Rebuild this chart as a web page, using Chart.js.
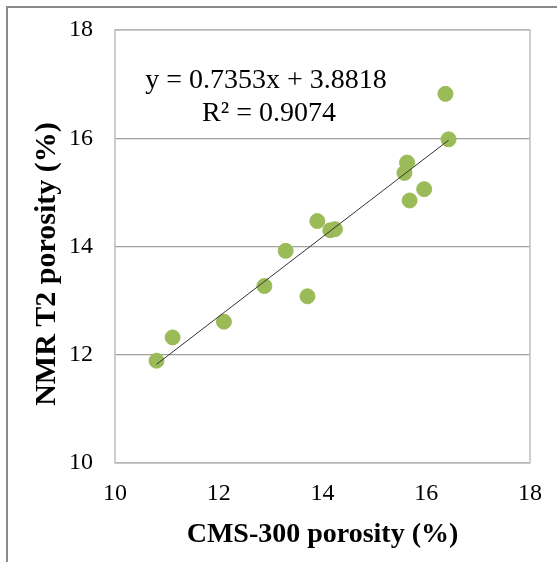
<!DOCTYPE html>
<html>
<head>
<meta charset="utf-8">
<script src="https://cdn.jsdelivr.net/npm/chart.js@4.4.0/dist/chart.umd.min.js"></script>
<style>
    html, body { margin: 0; padding: 0; background: #fff; }
    #wrap { width: 557px; height: 562px; }
</style>
</head>
<body>
<div id="wrap"><canvas id="porosityChart" width="557" height="562"></canvas></div>
<script>
// CMS-300 porosity vs NMR T2 porosity (%)
const cmsPorosity = [10.80, 11.11, 12.10, 12.88, 13.29, 13.71, 13.90, 14.15, 14.24, 15.58, 15.63, 15.68, 15.96, 16.37, 16.43];
const nmrPorosity = [11.89, 12.32, 12.61, 13.27, 13.92, 13.08, 14.47, 14.30, 14.32, 15.36, 15.55, 14.85, 15.06, 16.82, 15.98];
const axisTicks = [10, 12, 14, 16, 18];

// linear fit shown on the chart
const slope = 0.7353;
const intercept = 3.8818;
const fitLabel = ['y = 0.7353x + 3.8818', 'R² = 0.9074'];
const yTitle = 'NMR T2 porosity (%)';

const points = cmsPorosity.map((x, i) => ({ x: x, y: nmrPorosity[i] }));
const xMin = Math.min(...cmsPorosity);
const xMax = Math.max(...cmsPorosity);
const trend = [xMin, xMax].map(x => ({ x: x, y: slope * x + intercept }));

const serif = "'Liberation Serif', 'Times New Roman', serif";

// frame lines, plot border, equation and y title
const decor = {
    id: 'decor',
    beforeDraw(chart) {
        const ctx = chart.ctx;
        ctx.save();
        ctx.strokeStyle = '#8a8a8a';
        ctx.lineWidth = 2;
        ctx.beginPath();
        ctx.moveTo(7, 562);
        ctx.lineTo(7, 7);
        ctx.lineTo(557, 7);
        ctx.stroke();
        ctx.restore();
    },
    afterDatasetsDraw(chart) {
        const ctx = chart.ctx;
        const a = chart.chartArea;
        ctx.save();
        ctx.strokeStyle = '#bfbfbf';
        ctx.lineWidth = 1.5;
        ctx.strokeRect(a.left, a.top, a.right - a.left, a.bottom - a.top);
        ctx.fillStyle = '#000';
        ctx.font = '28px ' + serif;
        ctx.textAlign = 'center';
        ctx.textBaseline = 'middle';
        ctx.fillText(fitLabel[0], 266, 81);
        ctx.fillText(fitLabel[1], 269, 114);

        ctx.translate(47, 264);
        ctx.rotate(-Math.PI / 2);
        ctx.font = 'bold 30px ' + serif;
        ctx.fillText(yTitle, 0, 0);
        ctx.restore();
    }
};

new Chart(document.getElementById('porosityChart'), {
    type: 'scatter',
    data: {
        datasets: [{
            label: 'Samples',
            data: points,
            backgroundColor: '#9bbb59',
            borderColor: '#9bbb59',
            pointRadius: 7.5,
            order: 2
        }, {
            label: 'Trend',
            type: 'line',
            data: trend,
            borderColor: '#333',
            borderWidth: 1,
            pointRadius: 0,
            fill: false,
            order: 1
        }]
    },
    options: {
        responsive: false,
        animation: false,
        layout: { padding: { left: 8, top: 30, right: 27, bottom: 10 } },
        plugins: {
            legend: { display: false },
            tooltip: { enabled: false }
        },
        scales: {
            x: {
                type: 'linear',
                min: 10,
                max: 18,
                afterBuildTicks: axis => { axis.ticks = axisTicks.map(v => ({ value: v })); },
                afterFit: axis => { axis.height = 89; axis.paddingLeft = 0; axis.paddingRight = 0; },
                grid: { display: false, drawTicks: false },
                border: { display: false },
                ticks: {
                    color: '#000',
                    padding: 16,
                    font: { family: serif, size: 24 }
                },
                title: {
                    display: true,
                    text: 'CMS-300 porosity (%)',
                    color: '#000',
                    font: { family: serif, size: 28, weight: 'bold' },
                    padding: { top: 0, bottom: 0 }
                }
            },
            y: {
                type: 'linear',
                min: 10,
                max: 18,
                afterBuildTicks: axis => { axis.ticks = axisTicks.map(v => ({ value: v })); },
                afterFit: axis => { axis.width = 107; axis.paddingTop = 0; axis.paddingBottom = 0; },
                grid: {
                    drawTicks: false,
                    color: '#a0a0a0',
                    lineWidth: 1.2
                },
                border: { display: false },
                ticks: {
                    color: '#000',
                    padding: 22,
                    font: { family: serif, size: 24 }
                }
            }
        }
    },
    plugins: [decor]
});
</script>
</body>
</html>
